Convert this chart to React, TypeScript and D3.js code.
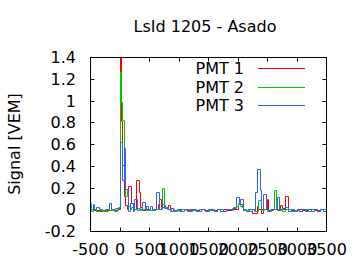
import React from "react";
import * as d3 from "d3";

const TITLE = "LsId 1205 - Asado";
const Y_LABEL = "Signal [VEM]";
const X_TICKS = [-500, 0, 500, 1000, 1500, 2000, 2500, 3000, 3500];
const Y_TICKS = [-0.2, 0, 0.2, 0.4, 0.6, 0.8, 1, 1.2, 1.4];
const SERIES_NAMES = ["PMT 1", "PMT 2", "PMT 3"];
const SERIES_COLORS = ["#ff0000", "#00c800", "#3060ff"];
const T_END = 3500;

// step change points: time (ns) where a new bin value begins, and the value
const PMT1_T = [-500, -475, -425, -350, -275, -225, -150, -100, -25, 0, 25, 50, 75, 100, 125, 150, 200, 225, 250, 275, 325, 350, 375, 400, 450, 525, 600, 650, 675, 700, 750, 775, 825, 850, 900, 975, 1050, 1125, 1200, 1275, 1350, 1425, 1500, 1575, 1650, 1750, 1800, 1900, 2000, 2025, 2050, 2075, 2100, 2175, 2250, 2325, 2350, 2400, 2425, 2500, 2525, 2600, 2675, 2725, 2750, 2800, 2850, 2900, 3000, 3100, 3200, 3300, 3400];
const PMT1_V = [0.02, 0.0, -0.01, -0.015, -0.005, -0.01, 0.0, -0.01, 0.0, 1.45, 0.81, 0.41, 0.12, 0.04, 0.0, 0.21, 0.055, 0.02, 0.0, 0.27, 0.16, 0.02, 0.0, -0.01, 0.0, -0.005, 0.0, 0.045, 0.09, 0.02, 0.04, 0.02, 0.04, 0.01, -0.005, -0.01, 0.0, -0.01, 0.0, -0.01, 0.0, -0.01, 0.005, -0.005, 0.0, 0.005, -0.005, 0.0, 0.05, 0.085, 0.05, 0.02, -0.005, 0.0, -0.03, 0.03, 0.0, -0.03, 0.0, 0.097, -0.005, 0.0, -0.01, 0.04, 0.0, 0.122, 0.0, -0.005, 0.005, -0.005, 0.0, -0.005, 0.0];

const PMT2_T = [-500, -475, -450, -400, -350, -300, -200, -100, -50, -25, 0, 25, 50, 75, 100, 125, 150, 175, 200, 225, 300, 350, 400, 450, 550, 600, 700, 725, 750, 800, 850, 900, 1000, 1050, 1150, 1200, 1300, 1350, 1450, 1500, 1600, 1650, 1750, 1800, 1900, 1925, 1975, 2000, 2050, 2075, 2100, 2200, 2250, 2300, 2350, 2400, 2450, 2500, 2550, 2625, 2650, 2700, 2750, 2800, 2900, 2950, 3050, 3100, 3200, 3250, 3350, 3400];
const PMT2_V = [0.055, -0.015, 0.0, -0.015, -0.01, -0.02, -0.01, -0.02, 0.0, 0.02, 1.26, 0.99, 0.82, 0.37, 0.12, 0.18, 0.03, 0.0, 0.02, 0.0, 0.01, -0.01, 0.0, -0.01, -0.01, 0.0, 0.02, 0.195, 0.02, 0.0, -0.015, -0.005, -0.015, 0.0, -0.015, -0.005, -0.015, 0.0, -0.015, -0.005, -0.015, 0.0, -0.015, 0.0, -0.01, 0.02, 0.03, 0.055, 0.03, 0.045, -0.01, -0.02, 0.0, -0.015, 0.085, -0.01, 0.0, -0.015, 0.0, 0.177, 0.0, -0.01, -0.015, 0.0, -0.015, -0.005, -0.015, 0.0, -0.02, 0.0, -0.015, 0.0];

const PMT3_T = [-500, -450, -425, -400, -350, -300, -250, -175, -150, -75, 0, 50, 75, 100, 150, 175, 225, 250, 300, 325, 375, 425, 450, 475, 525, 550, 575, 625, 675, 725, 750, 800, 825, 875, 900, 925, 975, 1050, 1100, 1175, 1225, 1300, 1375, 1450, 1525, 1600, 1650, 1700, 1800, 1900, 1975, 2025, 2050, 2100, 2150, 2200, 2275, 2300, 2325, 2375, 2400, 2425, 2475, 2525, 2575, 2675, 2700, 2750, 2800, 2850, 2900, 2950, 3000, 3050, 3100, 3150, 3200, 3250, 3300, 3350, 3400, 3450];
const PMT3_V = [0.0, 0.045, 0.0, 0.02, 0.0, -0.01, 0.0, 0.06, 0.0, 0.01, 0.62, 0.27, 0.56, 0.19, -0.015, 0.055, -0.015, 0.094, -0.01, 0.0, 0.07, 0.0, 0.03, 0.0, 0.03, -0.01, 0.0, 0.155, 0.0, 0.048, 0.01, 0.02, 0.0, -0.015, 0.005, -0.015, 0.0, -0.015, 0.0, -0.015, 0.005, -0.015, 0.0, -0.015, 0.0, -0.015, 0.0, -0.015, 0.0, 0.01, 0.11, 0.055, 0.09, 0.0, -0.015, 0.0, -0.015, 0.155, 0.367, 0.18, 0.0, 0.137, 0.0, -0.015, 0.005, 0.115, 0.0, 0.015, 0.02, -0.015, 0.005, -0.015, 0.005, -0.015, 0.005, -0.015, 0.005, -0.015, 0.005, -0.015, 0.005, -0.015];

const SERIES = [
  { t: PMT1_T, v: PMT1_V },
  { t: PMT2_T, v: PMT2_V },
  { t: PMT3_T, v: PMT3_V },
];

const W = 360;
const H = 270;
const M = { left: 90.5, right: 326.5, top: 57.5, bottom: 231.5 };
const FONT = "'DejaVu Sans', sans-serif";

const snap = (v: number) => Math.round(v - 0.5) + 0.5;

export default function App() {
  const x = d3.scaleLinear().domain([-500, 3500]).range([M.left, M.right]);
  const y = d3.scaleLinear().domain([-0.2, 1.4]).range([M.bottom, M.top]);

  const line = d3
    .line<[number, number]>()
    .x((d) => snap(x(d[0])))
    .y((d) => snap(y(d[1])))
    .curve(d3.curveStepAfter);

  const paths = SERIES.map((s) => {
    const pts: [number, number][] = s.t.map((t, i) => [t, s.v[i]]);
    pts.push([T_END, s.v[s.v.length - 1]]);
    return line(pts) || "";
  });

  const tickLen = 4;

  return (
    <svg
      width={W}
      height={H}
      style={{ position: "absolute", left: 0, top: 0, background: "#fff" }}
      fontFamily={FONT}
    >
      <defs>
        <clipPath id="plotclip">
          <rect
            x={M.left}
            y={M.top}
            width={M.right - M.left}
            height={M.bottom - M.top}
          />
        </clipPath>
      </defs>
      <rect width={W} height={H} fill="#fff" />
      <text x={205} y={32} textAnchor="middle" fontSize={16} fill="#000">
        {TITLE}
      </text>
      <text
        transform={`translate(19.5,144) rotate(-90)`}
        textAnchor="middle"
        fontSize={16}
        fill="#000"
      >
        {Y_LABEL}
      </text>

      {/* ticks */}
      {Y_TICKS.map((t) => (
        <g key={"y" + t}>
          <line x1={M.left} x2={M.left + tickLen} y1={snap(y(t))} y2={snap(y(t))} stroke="#000" />
          <line x1={M.right} x2={M.right - tickLen} y1={snap(y(t))} y2={snap(y(t))} stroke="#000" />
          <text x={76} y={y(t) + 5.5} textAnchor="end" fontSize={16} fill="#000">
            {String(t)}
          </text>
        </g>
      ))}
      {X_TICKS.map((t) => (
        <g key={"x" + t}>
          <line x1={snap(x(t))} x2={snap(x(t))} y1={M.bottom} y2={M.bottom - tickLen} stroke="#000" />
          <line x1={snap(x(t))} x2={snap(x(t))} y1={M.top} y2={M.top + tickLen} stroke="#000" />
          <text x={x(t)} y={255} textAnchor="middle" fontSize={16} fill="#000">
            {String(t)}
          </text>
        </g>
      ))}

      <g clipPath="url(#plotclip)">
        {paths.map((p, i) => (
          <path key={i} d={p} fill="none" stroke={SERIES_COLORS[i]} strokeWidth={1} />
        ))}
      </g>

      {/* legend */}
      {SERIES_NAMES.map((n, i) => {
        const ly = 68.5 + i * 18.7;
        return (
          <g key={n}>
            <text x={244} y={ly + 5.5} textAnchor="end" fontSize={16} fill="#000">
              {n}
            </text>
            <line x1={258} x2={305} y1={snap(ly)} y2={snap(ly)} stroke={SERIES_COLORS[i]} strokeWidth={1} />
          </g>
        );
      })}

      <rect
        x={M.left}
        y={M.top}
        width={M.right - M.left}
        height={M.bottom - M.top}
        fill="none"
        stroke="#000"
        strokeWidth={1}
      />
    </svg>
  );
}
